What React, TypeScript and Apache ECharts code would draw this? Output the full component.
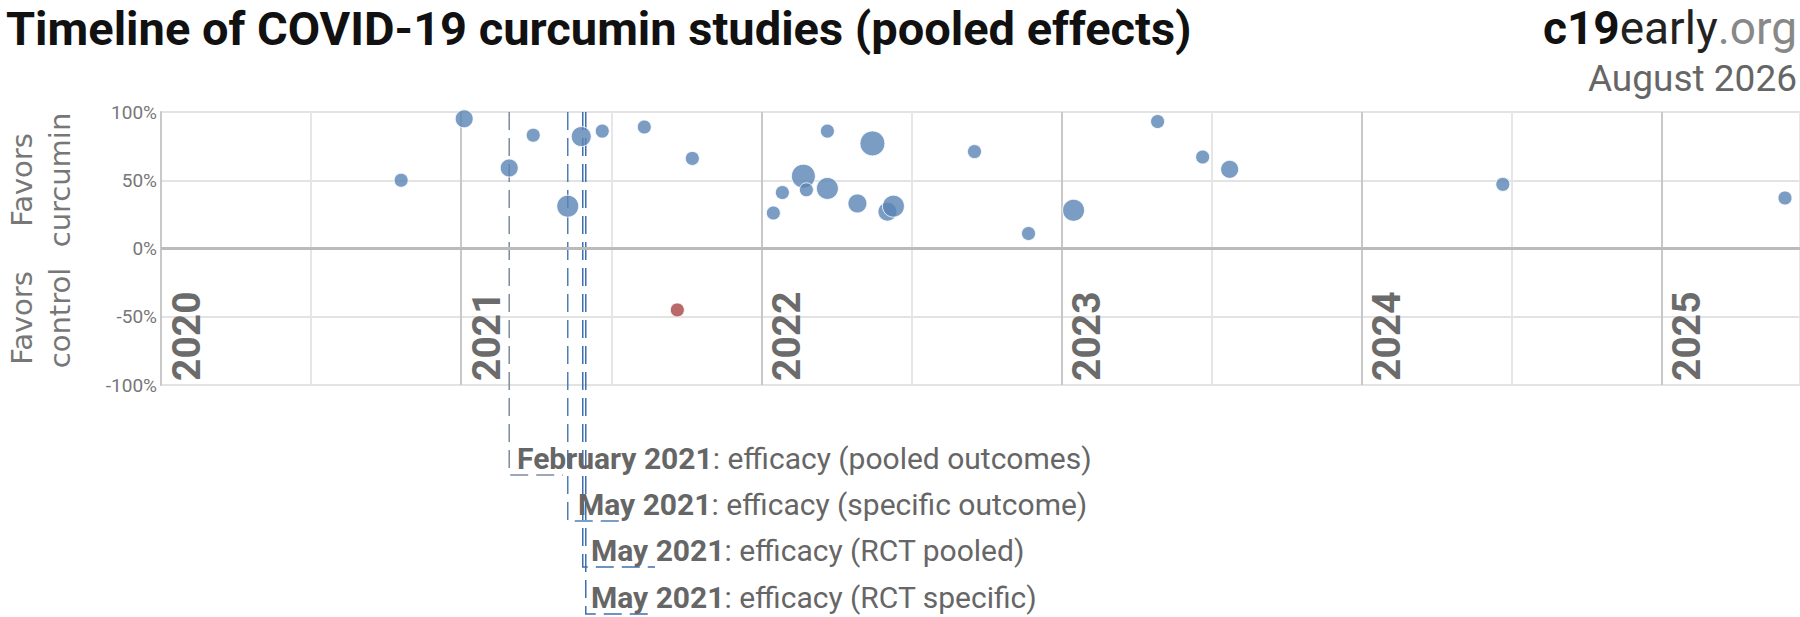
import React, { useEffect, useRef } from 'react'
import * as echarts from 'echarts'

// study date (fractional year), effect (%), size class
const studyDates = [2020.8, 2021.01, 2021.16, 2021.24, 2021.355, 2021.4, 2021.47, 2021.61, 2021.72, 2021.77, 2022.04, 2022.07, 2022.14, 2022.15, 2022.22, 2022.22, 2022.32, 2022.37, 2022.42, 2022.44, 2022.71, 2022.89, 2023.04, 2023.32, 2023.47, 2023.56, 2024.47, 2025.41]
const studyEffects = [50, 95, 59, 83, 31, 82, 86, 89, -45, 66, 26, 41, 53, 43, 44, 86, 33, 77, 27, 31, 71, 11, 28, 93, 67, 58, 47, 37]
const studySizes = [14, 18, 18, 14, 22, 20, 14, 14, 14, 14, 14, 14, 24, 14, 22, 14, 19, 25, 19, 22, 14, 14, 22, 14, 14, 18, 14, 14]

const years = [2020, 2021, 2022, 2023, 2024, 2025]
const milestoneDates = [2021.16, 2021.355, 2021.405, 2021.415]
const milestoneBold = ['February 2021', 'May 2021', 'May 2021', 'May 2021']
const milestoneText = [': efficacy (pooled outcomes)', ': efficacy (specific outcome)', ': efficacy (RCT pooled)', ': efficacy (RCT specific)']
const milestoneColors = ['#7d8ba0', '#4f7db5', '#3f6fad', '#3f6fad']

const App: React.FC = () => {
  const chartRef = useRef<HTMLDivElement>(null)

  useEffect(() => {
    if (!chartRef.current) return
    const chart = echarts.init(chartRef.current, undefined, { renderer: 'svg' })

    const option: any = {
      animation: false,
      textStyle: { fontFamily: 'Roboto' },
      grid: { left: 161, top: 112, right: 0, bottom: 232 },
      xAxis: {
        type: 'value', min: 2020, max: 2025.46, interval: 0.5,
        axisLabel: { show: false }, axisTick: { show: false },
        axisLine: { show: false },
        splitLine: { lineStyle: { color: ['#c8c8c8', '#e6e6e6'], width: 2 } }
      },
      yAxis: {
        type: 'value', min: -100, max: 100, interval: 50,
        axisLine: { show: true, lineStyle: { color: '#c8c8c8', width: 2 } },
        axisTick: { show: false },
        axisLabel: { formatter: '{value}%', color: '#777', fontSize: 19, margin: 4 },
        splitLine: { lineStyle: { color: '#e3e3e3', width: 2 } }
      },
      series: [{
        type: 'scatter',
        data: studyDates.map((d, i) => ({
          value: [d, studyEffects[i]],
          symbolSize: studySizes[i],
          itemStyle: { color: studyEffects[i] < 0 ? '#a84444' : '#5a84b5', borderColor: '#fff', borderWidth: 1 }
        })),
        markLine: {
          silent: true, symbol: 'none', label: { show: false },
          lineStyle: { color: '#bbb', width: 3, type: 'solid' },
          data: [{ yAxis: 0 }]
        },
        z: 5
      }]
    }
    chart.setOption(option)

    const g: any[] = []
    const topY = chart.convertToPixel({ gridIndex: 0 }, [2020, 100])[1]
    const bottomY = chart.convertToPixel({ gridIndex: 0 }, [2020, -100])[1]
    years.forEach((yr) => {
      const px = chart.convertToPixel({ gridIndex: 0 }, [yr, 0])[0]
      g.push({
        type: 'text', x: px + 6, y: bottomY - 4, rotation: Math.PI / 2, z: 3,
        style: { text: String(yr), font: 'bold 39px Roboto', fill: '#6b6b6b', textAlign: 'left', textVerticalAlign: 'top' }
      })
    })
    const labelY = [458, 504, 550, 597]
    const labelX = [517, 578, 591, 591]
    const lineEnd = [563, 625, 655, 655]
    milestoneDates.forEach((d, i) => {
      const px = chart.convertToPixel({ gridIndex: 0 }, [d, 0])[0]
      const ly = labelY[i] + 17
      g.push({
        type: 'polyline', z: 4, silent: true,
        shape: { points: [[px, topY], [px, ly], [lineEnd[i], ly]] },
        style: { stroke: milestoneColors[i], lineWidth: 1.5, lineDash: [18, 8], fill: 'none' }
      })
      g.push({
        type: 'text', x: labelX[i], y: labelY[i], z: 6,
        style: {
          text: `{b|${milestoneBold[i]}}{n|${milestoneText[i]}}`,
          textVerticalAlign: 'middle',
          rich: {
            b: { font: 'bold 30px Roboto', fill: '#666' },
            n: { font: '30px Roboto', fill: '#666' }
          }
        }
      })
    })
    const sideFont = '29px "DejaVu Sans"'
    g.push(
      { type: 'text', x: 6, y: 28, style: { text: 'Timeline of COVID-19 curcumin studies (pooled effects)', font: 'bold 47px Roboto', fill: '#111', textVerticalAlign: 'middle' } },
      {
        type: 'text', x: 1797, y: 28,
        style: {
          text: '{a|c19}{b|early}{c|.org}', textAlign: 'right', textVerticalAlign: 'middle',
          rich: { a: { font: 'bold 46px Roboto', fill: '#111' }, b: { font: '46px Roboto', fill: '#222' }, c: { font: '46px Roboto', fill: '#888' } }
        }
      },
      { type: 'text', x: 1797, y: 78, style: { text: 'August 2026', font: '37px Roboto', fill: '#666', textAlign: 'right', textVerticalAlign: 'middle' } },
      { type: 'text', x: 22, y: 180, rotation: Math.PI / 2, style: { text: 'Favors', font: sideFont, fill: '#777', textAlign: 'center', textVerticalAlign: 'middle' } },
      { type: 'text', x: 60, y: 180, rotation: Math.PI / 2, style: { text: 'curcumin', font: sideFont, fill: '#777', textAlign: 'center', textVerticalAlign: 'middle' } },
      { type: 'text', x: 22, y: 318, rotation: Math.PI / 2, style: { text: 'Favors', font: sideFont, fill: '#777', textAlign: 'center', textVerticalAlign: 'middle' } },
      { type: 'text', x: 60, y: 318, rotation: Math.PI / 2, style: { text: 'control', font: sideFont, fill: '#777', textAlign: 'center', textVerticalAlign: 'middle' } }
    )
    chart.setOption({ graphic: g })

    return () => chart.dispose()
  }, [])

  return <div ref={chartRef} style={{ position: 'fixed', left: 0, top: 0, width: 1800, height: 617, background: '#fff' }} />
}

export default App
